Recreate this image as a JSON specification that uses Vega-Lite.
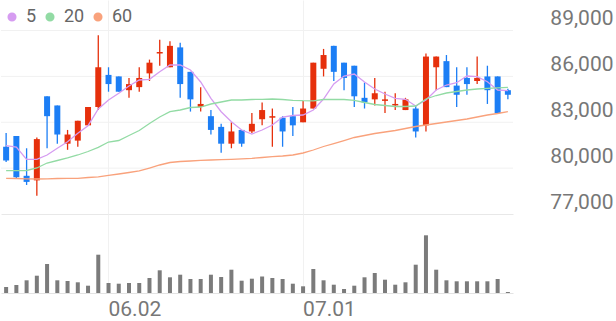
{
  "$schema": "https://vega.github.io/schema/vega-lite/v6.json",
  "padding": 0,
  "spacing": 0,
  "background": "#ffffff",
  "config": {
    "view": {"stroke": null},
    "font": "Roboto",
    "axis": {"minExtent": 0}
  },
  "resolve": {"scale": {"x": "shared", "y": "independent"}},
  "datasets": {
    "k": [
      {"d":"05.19","o":81400,"h":82300,"l":80400,"c":80500,"v":60000,"5":81480,"20":79833,"60":79336},
      {"d":"05.20","o":82100,"h":82100,"l":79300,"c":79400,"v":80000,"5":81383,"20":79833,"60":79322},
      {"d":"05.21","o":79500,"h":81300,"l":78900,"c":79100,"v":127000,"5":80578,"20":79846,"60":79303},
      {"d":"05.22","o":79200,"h":82000,"l":78200,"c":81900,"v":173000,"5":80578,"20":80009,"60":79290},
      {"d":"05.23","o":84700,"h":84700,"l":81300,"c":83400,"v":290000,"5":80860,"20":80336,"60":79303},
      {"d":"05.26","o":84100,"h":84100,"l":81600,"c":82200,"v":127000,"5":81298,"20":80500,"60":79322},
      {"d":"05.27","o":81600,"h":82500,"l":81200,"c":82200,"v":120000,"5":81730,"20":80664,"60":79336},
      {"d":"05.28","o":81800,"h":83100,"l":81400,"c":83100,"v":107000,"5":82279,"20":80860,"60":79336},
      {"d":"05.29","o":82800,"h":84000,"l":82800,"c":84000,"v":73000,"5":82777,"20":81089,"60":79388},
      {"d":"05.30","o":84000,"h":88700,"l":83800,"c":86600,"v":383000,"5":83869,"20":81364,"60":79434},
      {"d":"06.02","o":86100,"h":86600,"l":85000,"c":85500,"v":100000,"5":84458,"20":81710,"60":79532},
      {"d":"06.04","o":86000,"h":86000,"l":85000,"c":85000,"v":93000,"5":84896,"20":81808,"60":79617},
      {"d":"06.05","o":85100,"h":85900,"l":84600,"c":85500,"v":100000,"5":85374,"20":82135,"60":79715},
      {"d":"06.09","o":85300,"h":86600,"l":85000,"c":85900,"v":100000,"5":85766,"20":82463,"60":79826},
      {"d":"06.10","o":86200,"h":87100,"l":85700,"c":86900,"v":150000,"5":85812,"20":82921,"60":80009},
      {"d":"06.11","o":87500,"h":88400,"l":86700,"c":87600,"v":227000,"5":86309,"20":83346,"60":80206},
      {"d":"06.12","o":86600,"h":88300,"l":86600,"c":88000,"v":157000,"5":86748,"20":83692,"60":80369},
      {"d":"06.13","o":87900,"h":88200,"l":84600,"c":85500,"v":183000,"5":86748,"20":83804,"60":80435},
      {"d":"06.16","o":86300,"h":86300,"l":83700,"c":84500,"v":140000,"5":86420,"20":83967,"60":80467},
      {"d":"06.17","o":84000,"h":85300,"l":83700,"c":84200,"v":140000,"5":85635,"20":84000,"60":80513},
      {"d":"06.18","o":83400,"h":83800,"l":82200,"c":82500,"v":183000,"5":84569,"20":84196,"60":80533},
      {"d":"06.19","o":82700,"h":82900,"l":81000,"c":81600,"v":160000,"5":83692,"20":84327,"60":80552},
      {"d":"06.20","o":81600,"h":83000,"l":81300,"c":82400,"v":233000,"5":83038,"20":84458,"60":80578},
      {"d":"06.23","o":82500,"h":82500,"l":81400,"c":81600,"v":123000,"5":82495,"20":84458,"60":80611},
      {"d":"06.24","o":82400,"h":83600,"l":82300,"c":82900,"v":143000,"5":82234,"20":84491,"60":80644},
      {"d":"06.25","o":83200,"h":84300,"l":82800,"c":83800,"v":165000,"5":82495,"20":84504,"60":80696},
      {"d":"06.26","o":83300,"h":83900,"l":81400,"c":83400,"v":150000,"5":82822,"20":84523,"60":80749},
      {"d":"06.27","o":83300,"h":83400,"l":81400,"c":82400,"v":140000,"5":83346,"20":84491,"60":80794},
      {"d":"06.30","o":83400,"h":84000,"l":82100,"c":82800,"v":93000,"5":83444,"20":84438,"60":80860},
      {"d":"07.01","o":83000,"h":84400,"l":83000,"c":83900,"v":67000,"5":83477,"20":84412,"60":80991},
      {"d":"07.02","o":83900,"h":86900,"l":83900,"c":86900,"v":240000,"5":83804,"20":84405,"60":81187},
      {"d":"07.03","o":86500,"h":87800,"l":86000,"c":87400,"v":127000,"5":84523,"20":84491,"60":81416},
      {"d":"07.04","o":88000,"h":88000,"l":85700,"c":86300,"v":83000,"5":85505,"20":84504,"60":81612},
      {"d":"07.07","o":86900,"h":86900,"l":85100,"c":85900,"v":40000,"5":86028,"20":84491,"60":81808},
      {"d":"07.08","o":86700,"h":86700,"l":84000,"c":84700,"v":73000,"5":86159,"20":84438,"60":82005},
      {"d":"07.09","o":84600,"h":85600,"l":83900,"c":84300,"v":157000,"5":85635,"20":84294,"60":82135},
      {"d":"07.10","o":84500,"h":85900,"l":84100,"c":84900,"v":200000,"5":85178,"20":84163,"60":82266},
      {"d":"07.11","o":84400,"h":85000,"l":83600,"c":84500,"v":133000,"5":84850,"20":84098,"60":82364},
      {"d":"07.14","o":84100,"h":84900,"l":83800,"c":84200,"v":83000,"5":84569,"20":84032,"60":82463},
      {"d":"07.15","o":83800,"h":84600,"l":83800,"c":84500,"v":107000,"5":84504,"20":84032,"60":82594},
      {"d":"07.16","o":83900,"h":84100,"l":82000,"c":82400,"v":283000,"5":84065,"20":84065,"60":82724},
      {"d":"07.17","o":82800,"h":87500,"l":82400,"c":87300,"v":577000,"5":84458,"20":84523,"60":82822},
      {"d":"07.18","o":86600,"h":87300,"l":85100,"c":87300,"v":233000,"5":85112,"20":84752,"60":82921},
      {"d":"07.21","o":87000,"h":87400,"l":85300,"c":85300,"v":127000,"5":85439,"20":84916,"60":83019},
      {"d":"07.22","o":85400,"h":86600,"l":84000,"c":84800,"v":117000,"5":85590,"20":85014,"60":83117},
      {"d":"07.23","o":85900,"h":86600,"l":84800,"c":85500,"v":117000,"5":86028,"20":85112,"60":83215},
      {"d":"07.24","o":85700,"h":87300,"l":85500,"c":85900,"v":117000,"5":85982,"20":85178,"60":83346},
      {"d":"07.25","o":86000,"h":86700,"l":84200,"c":85100,"v":117000,"5":85655,"20":85223,"60":83477},
      {"d":"07.28","o":86000,"h":86000,"l":83600,"c":83600,"v":140000,"5":85112,"20":85256,"60":83575},
      {"d":"07.29","o":85100,"h":85200,"l":84500,"c":84800,"v":10000,"5":85066,"20":85289,"60":83692}
    ],
    "grid": [{"g": 80000}, {"g": 83000}, {"g": 86000}, {"g": 89000}]
  },
  "vconcat": [
    {
      "width": 616,
      "height": 214,
      "layer": [
        {
          "data": {"name": "grid"},
          "mark": {"type": "rule", "color": "#f1f1f1", "strokeWidth": 1},
          "encoding": {
            "y": {"field": "g", "type": "quantitative", "scale": {"domain": [77000, 91000], "zero": false, "nice": false},
              "axis": {"orient": "right", "title": null, "values": [77000, 80000, 83000, 86000, 89000], "format": ",.0f", "grid": false, "ticks": false, "domain": false, "labelAlign": "right", "labelBaseline": "alphabetic", "labelPadding": -4, "labelOffset": -6, "labelFontSize": 21, "labelColor": "#777777", "labelFont": "Roboto", "labelFlush": false, "labelOverlap": false}},
            "x": {"datum": "05.19", "type": "ordinal", "bandPosition": 0},
            "x2": {"datum": "07.29", "bandPosition": 1}
          }
        },
        {
          "data": {"name": "k"},
          "mark": {"type": "rule", "strokeWidth": 1.3},
          "encoding": {
            "x": {"field": "d", "type": "ordinal", "scale": {"type": "band", "paddingInner": 0, "paddingOuter": 0, "range": [0, 512]},
              "axis": {"orient": "bottom", "title": null, "labels": false, "ticks": false, "domain": true, "domainColor": "#e8e8e8", "grid": true, "gridColor": "#f1f1f1", "values": ["06.02", "07.01"]}},
            "y": {"field": "l", "type": "quantitative", "title": null},
            "y2": {"field": "h"},
            "color": {"condition": {"test": "datum.c >= datum.o", "value": "#e6300c"}, "value": "#1c7ef5"}
          }
        },
        {
          "data": {"name": "k"},
          "mark": {"type": "bar", "size": 6},
          "encoding": {
            "x": {"field": "d", "type": "ordinal"},
            "y": {"field": "o", "type": "quantitative"},
            "y2": {"field": "c"},
            "color": {"condition": {"test": "datum.c >= datum.o", "value": "#e6300c"}, "value": "#1c7ef5"}
          }
        },
        {
          "data": {"name": "k"},
          "transform": [{"fold": ["5", "20", "60"], "as": ["ma", "val"]}],
          "mark": {"type": "line", "strokeWidth": 1.3},
          "encoding": {
            "x": {"field": "d", "type": "ordinal"},
            "y": {"field": "val", "type": "quantitative"},
            "color": {"field": "ma", "type": "nominal",
              "scale": {"domain": ["5", "20", "60"], "range": ["#d69cf1", "#92dba4", "#f9a27c"]},
              "legend": {"orient": "none", "legendX": 2, "legendY": 8, "padding": 0, "direction": "horizontal", "title": null, "gridAlign": "none", "symbolType": "circle", "symbolSize": 20, "symbolStrokeWidth": 4.6, "labelFontSize": 18, "labelColor": "#666666", "labelFont": "Roboto", "labelOffset": 5, "columnPadding": 1}}
          }
        }
      ]
    },
    {
      "width": 616,
      "height": 79,
      "data": {"name": "k"},
      "mark": {"type": "bar", "size": 4, "color": "#7b7b7b"},
      "encoding": {
        "x": {"field": "d", "type": "ordinal",
          "axis": {"orient": "bottom", "title": null, "values": ["06.02", "07.01"], "labelAngle": 0, "labelAlign": "left", "labelBaseline": "alphabetic", "labelPadding": 22, "labelFontSize": 21, "labelColor": "#777777", "labelFont": "Roboto", "ticks": false, "domain": true, "domainColor": "#e3e3e3", "grid": true, "gridColor": "#f1f1f1", "labelFlush": false}},
        "y": {"field": "v", "type": "quantitative", "scale": {"domain": [0, 790000], "nice": false}, "axis": null}
      }
    }
  ]
}
